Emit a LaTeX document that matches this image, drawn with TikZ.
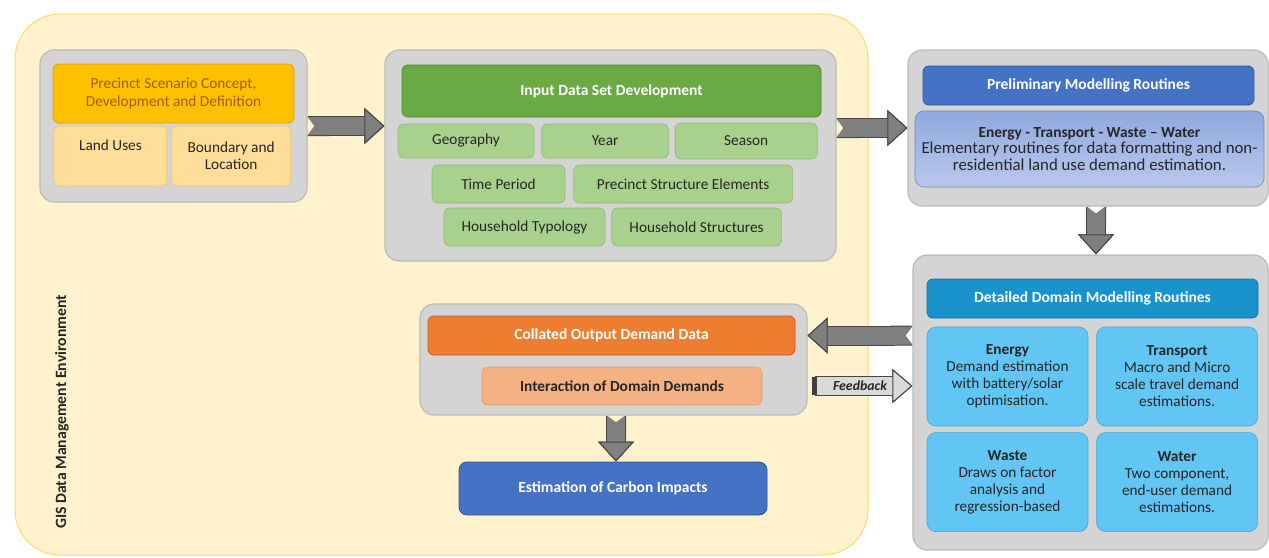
\documentclass[tikz,border=0pt]{standalone}
\usepackage{fontspec}
\setmainfont{Carlito}
\usetikzlibrary{positioning,arrows.meta}

\definecolor{envfill}{HTML}{FFF2CC}
\definecolor{envline}{HTML}{FFD966}
\definecolor{grpfill}{HTML}{D4D4D4}
\definecolor{grpline}{HTML}{BBBBBB}
\definecolor{scenfill}{HTML}{FFC000}
\definecolor{scenline}{HTML}{D9A300}
\definecolor{scentext}{HTML}{9E5E08}
\definecolor{scensub}{HTML}{FFDE99}
\definecolor{scensubline}{HTML}{F2C766}
\definecolor{greenhead}{HTML}{6AAA44}
\definecolor{greenline}{HTML}{548235}
\definecolor{greensub}{HTML}{A9D18E}
\definecolor{greensubline}{HTML}{8DBB6E}
\definecolor{bluehead}{HTML}{4472C4}
\definecolor{blueline}{HTML}{2F5597}
\definecolor{bluetop}{HTML}{8FA9DE}
\definecolor{bluebot}{HTML}{B7C8EC}
\definecolor{cyanhead}{HTML}{1A93CC}
\definecolor{cyanline}{HTML}{1172A0}
\definecolor{cyansub}{HTML}{62C6F5}
\definecolor{cyansubline}{HTML}{3BA7DB}
\definecolor{orangehead}{HTML}{ED7D31}
\definecolor{orangeline}{HTML}{C55A11}
\definecolor{salmon}{HTML}{F4B183}
\definecolor{salmonline}{HTML}{E8996A}
\definecolor{arrfill}{HTML}{7F7F7F}
\definecolor{arrline}{HTML}{454545}
\definecolor{fbfill}{HTML}{DADADA}
\definecolor{fbbar}{HTML}{404040}

\tikzset{
  sz/.style 2 args={minimum width=#1pt, minimum height=#2pt},
  grp/.style={draw=grpline, fill=grpfill, rounded corners=14pt, line width=1.2pt},
  head/.style={rounded corners=6pt, line width=0.8pt, text=white, align=center,
    font=\fontsize{15.5}{17}\selectfont\bfseries},
  sub/.style={rounded corners=6pt, line width=0.6pt, align=center, inner sep=2pt},
  greenbox/.style={sub, fill=greensub, draw=greensubline},
  domainbox/.style={sub, fill=cyansub, draw=cyansubline, rounded corners=9pt, sz={161}{99}},
  flow/.style={line width=18pt, draw=arrfill,
    {Triangle Cap[reversed,length=7pt]}-{Triangle[length=20pt,width=36pt,fill=arrfill,color=arrline,line width=1pt]},
    preaction={draw=arrline, line width=20pt}},
  feedback/.style={line width=18pt, draw=fbfill,
    {Square[length=5pt,width=18pt,color=fbbar]}-{Triangle[length=20pt,width=34pt,fill=fbfill,color=arrline,line width=1pt]},
    preaction={draw=arrline, line width=20pt}}
}

\begin{document}
\begin{tikzpicture}[x=1pt, y=-1pt, font=\fontsize{15.3}{17}\selectfont, text=black!85]
\useasboundingbox (0,0) rectangle (1269,557);

% environment
\node[draw=envline, fill=envfill, rounded corners=45pt, line width=1pt, sz={853}{541}] (env) at (441.5,284.5) {};
\node[rotate=90, font=\fontsize{15.7}{17}\selectfont\bfseries] (gis) at (62,412) {GIS Data Management Environment};

% scenario
\node[grp, sz={267}{152}] (scengrp) at (173.5,126) {};
\node[head, fill=scenfill, draw=scenline, text=scentext, font=\fontsize{15.3}{18}\selectfont, sz={241}{59}] (scen) at (173.5,93.5) {Precinct Scenario Concept,\\Development and Definition};
\node[sub, fill=scensub, draw=scensubline, sz={113}{60}] (land) at (110.5,156) {Land Uses\\\strut};
\node[sub, fill=scensub, draw=scensubline, sz={119}{60}, right=4pt of land] (bound) {Boundary and\\Location};

% input data
\node[grp, sz={451}{211}] (inputgrp) at (610.5,155.5) {};
\node[head, fill=greenhead, draw=greenline, sz={419}{52}] (input) at (611.5,91) {Input Data Set Development};
\node[greenbox, sz={136}{34}] (geo) at (466,141) {Geography};
\node[greenbox, sz={127}{34}, right=7pt of geo] (year) {Year};
\node[greenbox, sz={142}{36}, right=6pt of year] (season) {Season};
\node[greenbox, sz={133}{38}] (period) at (498.5,184) {Time Period};
\node[greenbox, sz={219}{38}, right=8pt of period] (pse) {Precinct Structure Elements};
\node[greenbox, sz={161}{38}] (hhtype) at (524.5,227) {Household Typology};
\node[greenbox, sz={170}{38}, right=6pt of hhtype] (hhstruct) {Household Structures};

% preliminary modelling
\node[grp, sz={360}{156}] (prelgrp) at (1088,128) {};
\node[head, fill=bluehead, draw=blueline, sz={331}{39}] (prel) at (1088.5,85.5) {Preliminary Modelling Routines};
\node[sub, top color=bluetop, bottom color=bluebot, draw=bluetop!80!black, rounded corners=9pt, sz={349}{76},
  font=\fontsize{16.8}{16.5}\selectfont] (prelbody) at (1089.5,149)
  {{\fontsize{15.4}{16.5}\selectfont\bfseries Energy - Transport - Waste -- Water}\\Elementary routines for data formatting and non-\\residential land use demand estimation.};

% detailed modelling
\node[grp, sz={355}{295}] (detgrp) at (1090.5,402.5) {};
\node[head, fill=cyanhead, draw=cyanline, sz={331}{39}] (det) at (1092.5,298.5) {Detailed Domain Modelling Routines};
\node[domainbox] (energy) at (1007.5,376.5) {\textbf{Energy}\\Demand estimation\\with battery/solar\\optimisation.};
\node[domainbox, right=8pt of energy] (transport) {\textbf{Transport}\\Macro and Micro\\scale travel demand\\estimations.};
\node[domainbox, below=6pt of energy] (waste) {\textbf{Waste}\\Draws on factor\\analysis and\\regression-based};
\node[domainbox, right=8pt of waste] (water) {\textbf{Water}\\Two component,\\end-user demand\\estimations.};

% collated output
\node[grp, sz={387}{111}] (colgrp) at (613.5,359.5) {};
\node[head, fill=orangehead, draw=orangeline, sz={367}{39}] (col) at (611.5,335.5) {Collated Output Demand Data};
\node[sub, fill=salmon, draw=salmonline, font=\fontsize{15.4}{17}\selectfont\bfseries, sz={280}{38}] (interact) at (622,386) {Interaction of Domain Demands};
\node[head, fill=bluehead, draw=blueline, rounded corners=8pt, sz={308}{53}] (carbon) at (613,488.5) {Estimation of Carbon Impacts};

% arrows
\draw[flow] (scengrp.east) -- (scengrp.east -| inputgrp.west);
\draw[flow] (inputgrp.east |- prelgrp.west) -- (prelgrp.west);
\draw[flow] ([xshift=8pt]prelgrp.south) -- ([xshift=8pt]prelgrp.south |- detgrp.north);
\draw[flow] (detgrp.west |- col) -- (colgrp.east |- col);
\draw[feedback] ([xshift=4pt]colgrp.east |- interact) -- (detgrp.west |- interact)
  node[midway, xshift=-2pt, font=\fontsize{13.8}{15}\selectfont\bfseries\itshape] {Feedback};
\draw[flow] ([xshift=3pt]carbon.north |- colgrp.south) -- ([xshift=3pt]carbon.north);
\end{tikzpicture}
\end{document}
